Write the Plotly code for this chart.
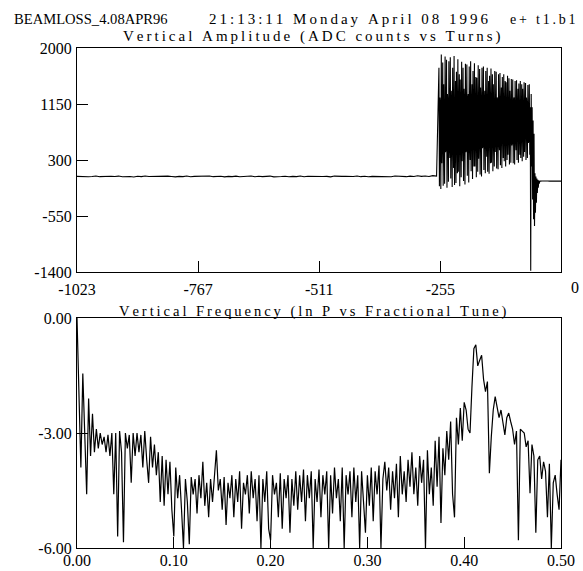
import numpy as np
import plotly.graph_objects as go

W, H = 583, 571

# ---------------- data: top panel (ADC counts vs turns) ----------------
base_start, base_step = -1023, 8
base_vals = [52, 48, 55, 45, 50, 58, 47, 51, 44, 53, 49, 56, 46, 52, 50, 43, 54, 48, 57, 49,
             51, 45, 53, 47, 55, 50, 44, 52, 48, 56, 46, 51, 53, 45, 49, 57, 47, 50, 54, 44,
             52, 48, 55, 46, 51, 49, 58, 45, 53, 47, 50, 56, 44, 52, 49, 54, 46, 51, 48, 57,
             45, 53, 50, 47, 55, 49, 52, 44, 56, 48, 51, 53, 46, 50, 58, 47, 54, 45, 52, 49,
             55, 48, 51, 46, 57, 50, 53, 47, 55, 49, 60, 52, 58, 50, 62, 55]

osc_start = -258
osc_vals = [1700, -100, 1250, 1100, -140, 1900, 250, 620, 1780, -90,
            1450, 1000, -60, 1870, 420, 480, 1820, -120, 1300, 1150,
            -30, 1800, 560, 330, 1860, 20, 1100, 1350, -110, 1700,
            700, 180, 1880, -80, 950, 1500, -50, 1640, 860, 100,
            1830, 120, 780, 1600, -100, 1520, 1000, 40, 1790, 280,
            620, 1700, -20, 1380, 1150, -70, 1760, 420, 460, 1750,
            60, 1200, 1300, -40, 1720, 580, 300, 1800, 130, 1000,
            1450, 10, 1650, 750, 200, 1770, 200, 850, 1560, 40,
            1550, 900, 120, 1740, 320, 700, 1680, 80, 1400, 1100,
            50, 1700, 480, 520, 1720, 150, 1150, 1350, 100, 1650,
            650, 350, 1700, 120, 1000, 1500, 90, 1580, 830, 250,
            1690, 260, 800, 1600, 130, 1450, 1000, 200, 1650, 420,
            620, 1640, 170, 1250, 1200, 160, 1600, 580, 450, 1620,
            220, 1050, 1400, 180, 1560, 720, 330, 1600, 280, 900,
            1500, 200, 1480, 860, 300, 1580, 380, 750, 1540, 230,
            1350, 1050, 260, 1530, 520, 600, 1520, 250, 1200, 1250,
            230, 1500, 680, 450, 1510, 300, 1050, 1380, 260, 1460,
            800, 380, 1500, 330, 900, 1450, 280, 1380, 950, 350,
            1480, 420, 760, 1470, 300, 1250, 1100, 330, 1440, 560,
            620, 1450, 380, 1100,
            # beam loss spike and ringing
            -1380, 1300, 200, 1100, -300, 900, -600, 700, -700, 100,
            -500, 50, -350, 20, -200, 0, -120, -10, -60, -30]

tail_step = 4
tail_vals = [-20, -18, -22, -20, -19, -21, -20, -18, -22, -20, -19, -20]

turns_base = base_start + base_step * np.arange(len(base_vals))
turns_osc = osc_start + np.arange(len(osc_vals))
turns_tail = turns_osc[-1] + 1 + tail_step * np.arange(len(tail_vals))
turns = np.concatenate([turns_base, turns_osc, turns_tail])
adc = np.array(base_vals + osc_vals + tail_vals, dtype=float)

# ---------------- data: bottom panel (ln P vs fractional tune) ----------------
tune_step = 0.002
lnP = [0.0, -2.0, -3.9, -1.45, -3.3, -4.6, -2.1, -3.6, -2.5, -3.5,
       -2.9, -3.4, -3.0, -3.3, -3.1, -3.5, -3.05, -3.6, -3.0, -4.6,
       -3.0, -5.7, -2.95, -3.5, -5.85, -3.0, -3.4, -3.05, -4.3, -3.0,
       -3.6, -3.0, -3.5, -3.05, -3.9, -2.95, -3.7, -4.3, -3.1, -3.9,
       -3.3, -4.1, -3.5, -4.8, -3.6, -4.9, -3.7, -4.6, -3.75, -5.0,
       -5.7, -3.9, -4.7, -4.1, -5.0, -6.0, -4.2, -4.8, -5.9, -4.15,
       -4.6, -4.2, -5.1, -4.1, -4.7, -3.75, -4.9, -4.3, -5.2, -4.2,
       -4.8, -4.1, -3.45, -4.5, -4.2, -5.0, -4.15, -5.4, -4.3, -4.7,
       -4.1, -5.2, -4.2, -4.8, -4.0, -5.5, -4.3, -4.6, -4.1, -5.1,
       -4.0, -4.7, -4.2, -5.3, -4.1, -6.0, -4.2, -4.8, -4.0, -5.5,
       -5.8, -4.1, -4.6, -4.3, -5.2, -4.05, -5.5, -4.2, -4.7, -4.1,
       -5.6, -4.2, -4.9, -4.0, -5.0, -4.1, -4.8, -3.95, -5.3, -4.1,
       -4.7, -4.0, -6.0, -4.2, -4.8, -3.95, -5.2, -4.1, -4.6, -4.0,
       -6.0, -4.1, -5.1, -3.9, -4.7, -4.2, -5.3, -3.9, -6.0, -4.1,
       -4.6, -4.0, -5.2, -3.9, -4.8, -4.1, -6.0, -4.0, -4.7, -5.6,
       -4.1, -4.9, -3.9, -5.3, -4.0, -4.6, -3.85, -6.0, -4.2, -3.75,
       -4.5, -3.9, -5.0, -4.0, -4.7, -3.8, -5.2, -3.6, -4.6, -4.0,
       -4.8, -3.7, -4.4, -3.5, -4.6, -3.9, -4.9, -3.6, -4.3, -3.7,
       -6.0, -3.45, -4.6, -3.9, -4.9, -3.2, -4.4, -3.1, -5.35, -3.4,
       -4.1, -2.95, -3.7, -2.7, -4.6, -5.2, -2.6, -3.3, -2.35, -3.2,
       -2.2, -2.4, -2.9, -3.0, -1.8, -0.8, -0.7, -1.25, -1.1, -0.97,
       -1.6, -1.92, -1.66, -4.05, -3.1, -2.4, -2.05, -2.3, -2.6, -2.4,
       -2.7, -3.05, -2.6, -2.48, -2.7, -2.9, -3.3, -2.95, -5.8, -2.9,
       -2.95, -3.0, -3.36, -3.2, -4.57, -3.3, -3.6, -5.6, -3.7, -3.6,
       -4.2, -3.75, -4.0, -5.2, -3.8, -6.0, -4.3, -4.1, -4.6, -5.0,
       -3.7]
tune = np.round(tune_step * np.arange(len(lnP)), 4)

# ---------------- tick labels / texts ----------------
top_xticks = [-1023, -767, -511, -255]
top_yticks = [2000, 1150, 300, -550, -1400]
bot_xticks = [0.0, 0.1, 0.2, 0.3, 0.4, 0.5]
bot_yticks = [0.0, -3.0, -6.0]

header_left = "BEAMLOSS_4.08APR96"
header_mid = "21:13:11 Monday April 08 1996"
header_right = "e+ t1.b1"
title_top = "Vertical Amplitude (ADC counts vs Turns)"
title_bot = "Vertical Frequency (ln P vs Fractional Tune)"

FONT = "Liberation Serif"


def sp(s, gap="\u2009"):
    return gap.join(s)


# ---------------- figure ----------------
fig = go.Figure()
fig.add_trace(go.Scatter(x=turns, y=adc, mode="lines",
                         line=dict(color="black", width=1.1),
                         xaxis="x", yaxis="y", showlegend=False))
fig.add_trace(go.Scatter(x=tune, y=lnP, mode="lines",
                         line=dict(color="black", width=1.2),
                         xaxis="x2", yaxis="y2", showlegend=False))

xdom = [77 / W, 561 / W]
ydom_top = [(H - 272) / H, (H - 48) / H]
ydom_bot = [(H - 548) / H, (H - 318) / H]

tickfont = dict(family=FONT, size=16, color="black")
axis_common = dict(showline=True, mirror=True, linecolor="black", linewidth=1.3,
                   showgrid=False, zeroline=False, ticks="inside", ticklen=11,
                   tickcolor="black", tickwidth=1.3, automargin=False,
                   tickfont=tickfont)

fig.update_layout(
    width=W, height=H,
    margin=dict(l=0, r=0, t=0, b=0),
    paper_bgcolor="white", plot_bgcolor="white",
    xaxis=dict(domain=xdom, anchor="y", range=[-1023, 0],
               tickvals=top_xticks, ticktext=[str(v) for v in top_xticks],
               ticklabelstandoff=3, **axis_common),
    yaxis=dict(domain=ydom_top, anchor="x", range=[-1400, 2000],
               tickvals=top_yticks, ticktext=[str(v) for v in top_yticks],
               ticklabelstandoff=1, **axis_common),
    xaxis2=dict(domain=xdom, anchor="y2", range=[0, 0.5],
                tickvals=bot_xticks, ticktext=[f"{v:.2f}" for v in bot_xticks],
                ticklabelstandoff=-2, **axis_common),
    yaxis2=dict(domain=ydom_bot, anchor="x2", range=[-6, 0],
                tickvals=bot_yticks, ticktext=[f"{v:.2f}" for v in bot_yticks],
                ticklabelstandoff=1, **axis_common),
)

ann = [
    dict(text=header_left, x=12 / W, y=1 - 19 / H, xanchor="left", size=14.6),
    dict(text=sp(header_mid), x=207 / W, y=1 - 19 / H, xanchor="left", size=15),
    dict(text=sp(header_right), x=578 / W, y=1 - 19 / H, xanchor="right", size=14),
    dict(text=sp(title_top), x=311 / W, y=1 - 36 / H, xanchor="center", size=15),
    dict(text=sp(title_bot), x=313 / W, y=1 - 311 / H, xanchor="center", size=14.6),
]
for a in ann:
    size = a.pop("size")
    fig.add_annotation(xref="paper", yref="paper", yanchor="middle", showarrow=False,
                       font=dict(family=FONT, size=size, color="black"), **a)
# "0" label at the right end of the top x axis
fig.add_annotation(xref="x", yref="paper", x=0, y=1 - 287 / H, text="0", showarrow=False,
                   xshift=14, yanchor="middle", font=tickfont)

# remove the default page margin so the figure fills the window exactly
fig.write_html("out.html", config={"displayModeBar": False},
               post_script="document.body.style.margin='0px';")
